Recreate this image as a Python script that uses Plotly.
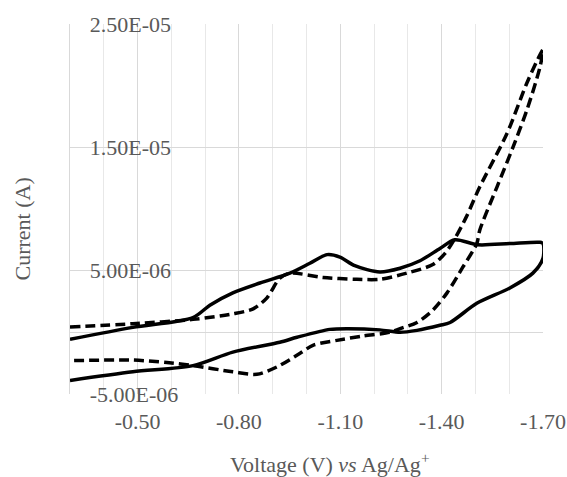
import plotly.graph_objects as go

# Solid CV loop (V vs Ag/Ag+, current in A)
solid_v = [-0.300, -0.486, -0.664, -0.714, -0.782, -0.862, -0.951, -1.010, -1.061, -1.099,
           -1.143, -1.217, -1.277, -1.336, -1.395, -1.439, -1.507, -1.602, -1.691, -1.700,
           -1.700, -1.670, -1.602, -1.504, -1.425, -1.395, -1.327, -1.277, -1.217, -1.120,
           -1.069, -0.972, -0.921, -0.782, -0.664, -0.486, -0.300]
solid_i_uA = [-0.57, 0.40, 1.20, 2.20, 3.20, 4.00, 4.80, 5.60, 6.30, 6.10,
              5.40, 4.90, 5.20, 5.80, 6.80, 7.50, 7.10, 7.20, 7.30, 7.20,
              6.00, 4.80, 3.60, 2.35, 0.80, 0.57, 0.16, 0.00, 0.20, 0.30,
              0.24, -0.40, -0.80, -1.60, -2.70, -3.20, -3.90]

# Dashed CV loop
dash_v = [-0.300, -0.486, -0.664, -0.782, -0.842, -0.883, -0.921, -0.951, -1.049, -1.149,
          -1.217, -1.297, -1.374, -1.410, -1.439, -1.472, -1.513, -1.593, -1.652, -1.691,
          -1.700, -1.691, -1.652, -1.611, -1.564, -1.513, -1.504, -1.463, -1.416, -1.374,
          -1.327, -1.277, -1.247, -1.167, -1.090, -1.019, -0.981, -0.913, -0.853, -0.782,
          -0.664, -0.587, -0.486, -0.300]
dash_i_uA = [0.43, 0.70, 1.05, 1.50, 1.90, 2.80, 4.40, 4.80, 4.45, 4.30,
             4.30, 4.80, 5.50, 6.40, 7.60, 9.30, 11.80, 16.10, 20.20, 22.50,
             22.90, 21.50, 18.00, 15.00, 11.80, 8.30, 7.20, 5.30, 3.20, 1.80,
             0.80, 0.30, 0.00, -0.30, -0.65, -1.05, -1.70, -2.80, -3.40, -3.20,
             -2.70, -2.45, -2.25, -2.30]

x_tick_vals = [-0.50, -0.80, -1.10, -1.40, -1.70]
x_tick_text = ["-0.50", "-0.80", "-1.10", "-1.40", "-1.70"]
y_tick_vals = [-5e-6, 5e-6, 1.5e-5, 2.5e-5]
y_tick_text = ["-5.00E-06", "5.00E-06", "1.50E-05", "2.50E-05"]

FONT = "Liberation Serif"
GRAY = "#595959"
FS = 22

fig = go.Figure()
fig.add_trace(go.Scatter(x=solid_v, y=[v * 1e-6 for v in solid_i_uA], mode="lines",
                         line=dict(color="black", width=3.5, shape="spline", smoothing=0.8),
                         showlegend=False))
fig.add_trace(go.Scatter(x=dash_v, y=[v * 1e-6 for v in dash_i_uA], mode="lines",
                         line=dict(color="black", width=3.5, dash="10px,5px", shape="spline", smoothing=0.8),
                         showlegend=False))

fig.update_layout(
    width=567, height=477,
    margin=dict(l=70, r=24, t=24, b=83, autoexpand=False),
    paper_bgcolor="white", plot_bgcolor="white",
    font=dict(family=FONT, color=GRAY, size=FS),
    xaxis=dict(range=[-0.3, -1.7], tickvals=x_tick_vals, ticktext=x_tick_text,
               showgrid=True, gridcolor="#d9d9d9", gridwidth=1.3,
               minor=dict(dtick=0.1, tick0=-0.3, showgrid=True, gridcolor="#e8e8e8", gridwidth=1.3),
               zeroline=False, showline=False, ticks="", ticklabelstandoff=12,
               automargin=False,
               tickfont=dict(family=FONT, size=FS, color=GRAY)),
    yaxis=dict(range=[-5e-6, 2.5e-5], tickvals=y_tick_vals, ticktext=y_tick_text,
               showgrid=True, gridcolor="#d9d9d9", gridwidth=1.3,
               zeroline=True, zerolinecolor="#d9d9d9", zerolinewidth=1.3,
               showline=True, linecolor="#d9d9d9", linewidth=1.3, mirror=False,
               ticks="", ticklabelposition="inside", ticklabelstandoff=21,
               ticklabeloverflow="allow", automargin=False,
               tickfont=dict(family=FONT, size=FS, color=GRAY)),
    annotations=[
        dict(text="Voltage (V) <i>vs</i> Ag/Ag<sup>+</sup>", xref="paper", yref="paper",
             x=(329.5 - 70) / 473, y=(394 - 463) / 370, xanchor="center", yanchor="middle",
             showarrow=False, font=dict(family=FONT, size=FS, color=GRAY)),
        dict(text="Current (A)", xref="paper", yref="paper",
             x=(22 - 70) / 473, y=(394 - 229.5) / 370, xanchor="center", yanchor="middle",
             textangle=-90, showarrow=False, font=dict(family=FONT, size=FS, color=GRAY)),
    ],
)

fig.write_html("out.html", config={"displayModeBar": False},
               post_script="document.body.style.margin='0';")
